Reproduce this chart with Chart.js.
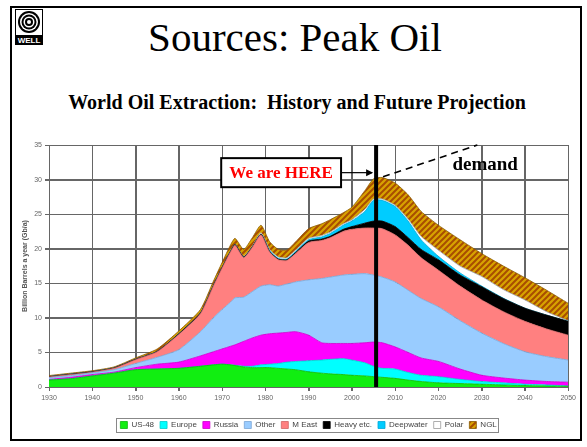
<!DOCTYPE html>
<html>
<head>
<meta charset="utf-8">
<script src="https://cdn.jsdelivr.net/npm/chart.js@4.4.1/dist/chart.umd.min.js"></script>
<style>
html, body { margin: 0; padding: 0; background: #fff; }
#slide { position: relative; width: 587px; height: 447px; overflow: hidden; font-family: "Liberation Serif", "Times New Roman", serif; }
#frame { position: absolute; left: 10px; top: 6px; width: 568px; height: 431px; border: 2px solid #000; }
#title { position: absolute; left: 0; width: 590px; top: 13px; text-align: center; font-size: 41px; line-height: 48px; }
#subtitle { position: absolute; left: 0; width: 594px; top: 91px; text-align: center; font-size: 20px; font-weight: bold; line-height: 22px; }
#logo { position: absolute; left: 15px; top: 9px; }
#wrap { position: absolute; left: 14px; top: 128px; width: 565px; height: 311px; }
</style>
</head>
<body>
<div id="slide">
  <div id="frame"></div>
  <svg id="logo" width="28" height="36" viewBox="0 0 28 36">
    <rect x="0.5" y="0.5" width="27" height="35" fill="#fff" stroke="#000"/>
    <circle cx="14" cy="13" r="11" fill="#000"/>
    <circle cx="14" cy="13" r="9" fill="#fff"/>
    <circle cx="14" cy="13" r="7.5" fill="#000"/>
    <circle cx="14" cy="13" r="5.5" fill="#fff"/>
    <circle cx="14" cy="13" r="4" fill="#000"/>
    <circle cx="14" cy="13" r="2" fill="#fff"/>
    <rect x="1" y="26" width="26" height="9" fill="#000"/>
    <text x="14" y="33.5" font-size="8" font-weight="bold" fill="#fff" text-anchor="middle" font-family="Liberation Sans">WELL</text>
  </svg>
  <div id="title">Sources: Peak Oil</div>
  <div id="subtitle">World Oil Extraction:&nbsp; History and Future Projection</div>
  <div id="wrap"><canvas id="chart"></canvas></div>
</div>
<script>
// Gb per year
const years = [1930, 1935, 1940, 1945, 1950, 1955, 1960, 1965, 1968, 1970, 1972, 1973, 1975, 1977, 1979, 1981, 1983, 1985, 1987, 1990, 1993, 1995, 1998, 2000, 2003, 2005, 2007, 2010, 2013, 2016, 2020, 2025, 2030, 2035, 2040, 2045, 2050];
const us48 = [1.0, 1.2, 1.6, 2.0, 2.5, 2.6, 2.7, 3.0, 3.2, 3.3, 3.2, 3.1, 2.9, 2.8, 2.8, 2.8, 2.7, 2.6, 2.5, 2.2, 2.0, 1.9, 1.8, 1.7, 1.6, 1.5, 1.4, 1.25, 1.0, 0.8, 0.6, 0.5, 0.4, 0.3, 0.2, 0.15, 0.1];
const europe = [0, 0, 0, 0, 0, 0, 0, 0, 0, 0, 0, 0.05, 0.1, 0.2, 0.4, 0.5, 0.7, 1.0, 1.2, 1.6, 1.9, 2.1, 2.3, 2.2, 1.9, 1.5, 1.3, 1.35, 1.1, 0.9, 0.9, 0.6, 0.4, 0.3, 0.2, 0.15, 0.05];
const russia = [0.1, 0.2, 0.2, 0.15, 0.3, 0.7, 0.9, 1.5, 1.9, 2.2, 2.7, 2.95, 3.6, 4.1, 4.3, 4.4, 4.4, 4.3, 4.3, 3.7, 2.5, 2.3, 2.2, 2.4, 2.9, 3.5, 3.7, 3.2, 2.9, 2.5, 2.2, 1.5, 0.9, 0.7, 0.6, 0.5, 0.55];
const other = [0.25, 0.25, 0.25, 0.35, 0.6, 1.0, 1.8, 3.5, 4.9, 5.7, 6.4, 6.8, 6.4, 6.7, 7.1, 7.1, 6.8, 7.0, 7.2, 8.0, 9.3, 9.6, 9.9, 10.0, 10.0, 9.7, 9.5, 9.4, 9.0, 8.6, 7.9, 7.0, 6.1, 5.0, 4.1, 3.6, 3.2];
const mEast = [0.1, 0.15, 0.1, 0.2, 0.55, 0.8, 2.2, 2.6, 4.6, 6.0, 7.3, 7.6, 5.7, 6.4, 7.4, 4.7, 3.8, 3.4, 4.1, 5.4, 5.5, 5.7, 6.3, 6.5, 6.6, 6.8, 7.0, 6.8, 6.5, 5.9, 5.3, 5.0, 4.8, 4.6, 4.4, 4.0, 3.6];
const heavy = [0.05, 0.05, 0.05, 0.05, 0.05, 0.05, 0.1, 0.1, 0.1, 0.1, 0.1, 0.1, 0.1, 0.1, 0.1, 0.1, 0.1, 0.1, 0.15, 0.2, 0.2, 0.2, 0.3, 0.4, 0.7, 1.0, 1.1, 1.2, 1.1, 1.2, 1.5, 1.6, 1.9, 1.9, 1.9, 2.0, 2.0];
const deepwater = [0, 0, 0, 0, 0, 0, 0, 0, 0, 0, 0, 0, 0, 0, 0, 0.1, 0.1, 0.1, 0.15, 0.2, 0.3, 0.4, 0.6, 0.8, 1.7, 3.0, 3.0, 2.9, 2.4, 1.4, 0.5, 0.3, 0.1, 0.05, 0, 0, 0];
const polar = [0, 0, 0, 0, 0, 0, 0, 0, 0, 0, 0.05, 0.05, 0.1, 0.1, 0.2, 0.2, 0.2, 0.2, 0.2, 0.2, 0.2, 0.2, 0.2, 0.2, 0.3, 0.2, 0.2, 0.2, 0.3, 0.5, 0.9, 1.0, 1.4, 1.25, 1.2, 0.5, 0.1];
const ngl = [0.15, 0.15, 0.15, 0.15, 0.2, 0.35, 0.4, 0.5, 0.6, 0.7, 0.85, 0.85, 1.0, 1.2, 1.1, 1.1, 1.1, 1.1, 1.2, 1.4, 1.7, 1.8, 1.6, 1.8, 2.7, 2.9, 3.1, 3.2, 3.5, 3.6, 3.6, 3.8, 3.3, 3.4, 3.2, 3.1, 2.5];

const xTicks = [1930, 2050, 10];
const yTicks = [0, 35, 5];

// annotation anchors, in data units
const nowYear = 2005.6;
const hereBox = [1969.8, 1997.5, 33.1, 28.9];
const demandFrom = [2007.2, 30.4];
const demandTo = [2029, 35];
const demandText = [2030.8, 32.1];

function hatch() {
    let c = document.createElement('canvas');
    c.width = 6; c.height = 6;
    let g = c.getContext('2d');
    g.fillStyle = '#d8a300';
    g.fillRect(0, 0, 6, 6);
    g.strokeStyle = '#a84d00';
    g.lineWidth = 2;
    g.beginPath();
    g.moveTo(-1, 7); g.lineTo(7, -1);
    g.moveTo(-4, 4); g.lineTo(4, -4);
    g.moveTo(2, 10); g.lineTo(10, 2);
    g.stroke();
    return g.createPattern(c, 'repeat');
}

function layer(label, values, fill, border, first) {
    return {
        label: label,
        data: years.map((y, i) => ({ x: y, y: values[i] })),
        backgroundColor: fill,
        borderColor: border,
        borderWidth: 0.8,
        pointRadius: 0,
        tension: 0.2,
        fill: first ? 'origin' : '-1'
    };
}

// grid under the areas, taken from the scales' own ticks
const gridLines = {
    id: 'gridLines',
    beforeDatasetsDraw(chart) {
        const { ctx, chartArea } = chart;
        const x = chart.scales.x, y = chart.scales.y;
        ctx.save();
        ctx.strokeStyle = '#666';
        ctx.lineWidth = 1;
        ctx.beginPath();
        x.ticks.forEach(t => {
            let px = Math.round(x.getPixelForValue(t.value)) + 0.5;
            ctx.moveTo(px, chartArea.top);
            ctx.lineTo(px, chartArea.bottom + 4);
        });
        y.ticks.forEach(t => {
            let py = Math.round(y.getPixelForValue(t.value)) + 0.5;
            ctx.moveTo(chartArea.left - 4, py);
            ctx.lineTo(chartArea.right, py);
        });
        ctx.stroke();
        ctx.restore();
    }
};

const annot = {
    id: 'annot',
    afterDatasetsDraw(chart) {
        const { ctx, chartArea } = chart;
        const x = chart.scales.x, y = chart.scales.y;
        ctx.save();
        // now line
        let lx = x.getPixelForValue(nowYear);
        ctx.strokeStyle = '#000';
        ctx.lineWidth = 4;
        ctx.beginPath();
        ctx.moveTo(lx, chartArea.top);
        ctx.lineTo(lx, chartArea.bottom);
        ctx.stroke();
        // demand dashed line
        ctx.lineWidth = 1.6;
        ctx.setLineDash([7, 5]);
        ctx.beginPath();
        ctx.moveTo(x.getPixelForValue(demandFrom[0]), y.getPixelForValue(demandFrom[1]));
        ctx.lineTo(x.getPixelForValue(demandTo[0]), y.getPixelForValue(demandTo[1]));
        ctx.stroke();
        ctx.setLineDash([]);
        ctx.fillStyle = '#000';
        ctx.font = 'bold 19px "Liberation Serif"';
        ctx.textAlign = 'center';
        ctx.textBaseline = 'middle';
        ctx.fillText('demand', x.getPixelForValue(demandText[0]), y.getPixelForValue(demandText[1]));
        // We are HERE box
        let bx0 = x.getPixelForValue(hereBox[0]), bx1 = x.getPixelForValue(hereBox[1]);
        let by0 = y.getPixelForValue(hereBox[2]), by1 = y.getPixelForValue(hereBox[3]);
        ctx.fillStyle = '#fff';
        ctx.fillRect(bx0, by0, bx1 - bx0, by1 - by0);
        ctx.lineWidth = 2;
        ctx.strokeRect(bx0, by0, bx1 - bx0, by1 - by0);
        ctx.fillStyle = '#f00';
        ctx.font = 'bold 17px "Liberation Serif"';
        ctx.fillText('We are HERE', (bx0 + bx1) / 2, (by0 + by1) / 2 + 1);
        // arrow
        let ay = (by0 + by1) / 2;
        ctx.lineWidth = 1.2;
        ctx.beginPath();
        ctx.moveTo(bx1, ay);
        ctx.lineTo(lx - 4, ay);
        ctx.stroke();
        ctx.fillStyle = '#000';
        ctx.beginPath();
        ctx.moveTo(lx - 3, ay);
        ctx.lineTo(lx - 10, ay - 3.5);
        ctx.lineTo(lx - 10, ay + 3.5);
        ctx.closePath();
        ctx.fill();
        ctx.restore();
    }
};

const legendBox = {
    id: 'legendBox',
    afterDraw(chart) {
        const boxes = chart.legend.legendHitBoxes;
        if (!boxes || !boxes.length) return;
        let l = Math.min(...boxes.map(b => b.left)) - 4;
        let r = Math.max(...boxes.map(b => b.left + b.width)) + 2;
        let t = Math.min(...boxes.map(b => b.top)) - 3;
        let b = Math.max(...boxes.map(b => b.top + b.height)) + 3;
        const ctx = chart.ctx;
        ctx.save();
        ctx.strokeStyle = '#888';
        ctx.lineWidth = 1;
        ctx.strokeRect(Math.round(l) + 0.5, Math.round(t) + 0.5, Math.round(r - l), Math.round(b - t));
        ctx.restore();
    }
};

new Chart(document.getElementById('chart').getContext('2d'), {
    type: 'line',
    data: {
        datasets: [
            layer('US-48', us48, '#11ee11', '#0bb80b', true),
            layer('Europe', europe, '#00ffff', '#00cccc'),
            layer('Russia', russia, '#ff00ff', '#cc00cc'),
            layer('Other', other, '#99ccff', '#7aa6d6'),
            layer('M East', mEast, '#ff8080', '#d06464'),
            layer('Heavy etc.', heavy, '#000000', '#000000'),
            layer('Deepwater', deepwater, '#00ccff', '#00a8d8'),
            layer('Polar', polar, '#ffffff', '#999999'),
            layer('NGL', ngl, hatch(), '#8a5a00')
        ]
    },
    options: {
        responsive: true,
        maintainAspectRatio: false,
        animation: false,
        layout: {
            padding: { left: 6, right: 8, top: 17, bottom: 0 }
        },
        scales: {
            x: {
                type: 'linear',
                min: xTicks[0],
                max: xTicks[1],
                afterFit(s) { s.height = 28; },
                ticks: {
                    stepSize: xTicks[2],
                    autoSkip: false,
                    maxRotation: 0,
                    padding: 3,
                    color: '#666',
                    font: { size: 7, family: 'Liberation Sans' },
                    callback: v => String(v)
                },
                grid: { color: '#666', lineWidth: 1, tickLength: 4 },
                border: { color: '#666' }
            },
            y: {
                stacked: true,
                min: yTicks[0],
                max: yTicks[1],
                afterFit(s) { s.width = 29; },
                ticks: {
                    stepSize: yTicks[2],
                    padding: 3,
                    color: '#666',
                    font: { size: 7, family: 'Liberation Sans' }
                },
                grid: { color: '#666', lineWidth: 1, tickLength: 4 },
                border: { color: '#666' },
                title: {
                    display: true,
                    text: 'Billion Barrels a year (Gb/a)',
                    color: '#555',
                    font: { size: 7, weight: 'bold', family: 'Liberation Sans' },
                    padding: { top: 1, bottom: 2 }
                }
            }
        },
        plugins: {
            legend: {
                position: 'bottom',
                fullSize: false,
                labels: {
                    boxWidth: 7,
                    boxHeight: 7,
                    padding: 6,
                    color: '#444',
                    font: { size: 8, family: 'Liberation Sans' }
                }
            },
            tooltip: { enabled: false }
        }
    },
    plugins: [gridLines, annot, legendBox]
});
</script>
</body>
</html>
